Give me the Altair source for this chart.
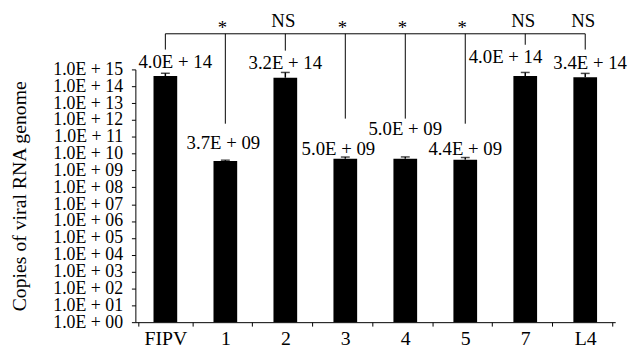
import altair as alt
import pandas as pd

categories = ["FIPV", "1", "2", "3", "4", "5", "7", "L4"]
values = [4.0e14, 3.7e9, 3.2e14, 5.0e9, 5.0e9, 4.4e9, 4.0e14, 3.4e14]
value_labels = ["4.0E + 14", "3.7E + 09", "3.2E + 14", "5.0E + 09",
                "5.0E + 09", "4.4E + 09", "4.0E + 14", "3.4E + 14"]
error_tops = [5.9e14, 4.1e9, 6.6e14, 6.3e9, 6.4e9, 5.9e9, 6.6e14, 5.8e14]

sig_categories = ["1", "2", "3", "4", "5", "7", "L4"]
sig_labels = ["*", "NS", "*", "*", "*", "NS", "NS"]
bracket_level = 1.3e17
bracket_ends = [1.5e16, 6e11, 1.3e16, 1.2e12, 1.2e12, 6e11, 2.9e16, 1.5e16]
sig_level = 3.3e17

tick_values = [10 ** i for i in range(16)]
tick_labels = ["1.0E + 00", "1.0E + 01", "1.0E + 02", "1.0E + 03", "1.0E + 04",
               "1.0E + 05", "1.0E + 06", "1.0E + 07", "1.0E + 08", "1.0E + 09",
               "1.0E + 10", "1.0E + 11", "1.0E + 12", "1.0E + 13", "1.0E + 14",
               "1.0E + 15"]

# label nudges (layout only, pixels)
label_dx = [10, -2, 0, -7, 0, 0, -20, 5]
label_dy = [-14, -18, -15, -10, -30, -11, -19, -14]

FONT = "Liberation Serif"
TITLE = "Copies of viral RNA genome"

df = pd.DataFrame({"cat": categories, "value": values, "label": value_labels,
                   "err": error_tops, "base": [1] * len(categories),
                   "bend": bracket_ends, "blevel": [bracket_level] * len(categories)})
sig_df = pd.DataFrame({"cat": sig_categories, "sig": sig_labels,
                       "slevel": [sig_level] * len(sig_categories)})
hdf = pd.DataFrame({"cat": [categories[0]], "cat2": [categories[-1]], "blevel": [bracket_level]})

y_scale = alt.Scale(type="log", domain=[1, 1e15], nice=False)
x_scale = alt.Scale(domain=categories)

label_expr = ("[" + ",".join("'%s'" % s for s in tick_labels)
              + "][round(log(datum.value)/LN10)]")

x_axis = alt.Axis(labelAngle=0, tickBand="extent", labelFont=FONT, labelFontSize=20,
                  labelColor="black", tickColor="black", domainColor="black",
                  tickSize=4, labelPadding=3, grid=False)
y_axis = alt.Axis(values=tick_values, labelExpr=label_expr, labelOverlap=False,
                  grid=False, labelFont=FONT, labelFontSize=18, labelColor="black",
                  titleFont=FONT, titleFontSize=20, titleFontWeight="normal",
                  titleColor="black", tickColor="black", domainColor="black",
                  tickSize=4, labelPadding=9, titleX=-111, titleY=128,
                  titleBaseline="alphabetic")


def X(field):
    return alt.X(field + ":N", scale=x_scale, axis=x_axis, title=None)


def Y(field):
    return alt.Y(field + ":Q", scale=y_scale, axis=y_axis, title=TITLE)


base = alt.Chart(df)

bars = base.mark_bar(color="#000000", size=24).encode(
    x=X("cat"), y=Y("value"), y2="base:Q",
)

err_rule = base.mark_rule(color="black", strokeWidth=1.5).encode(
    x=X("cat"), y=Y("value"), y2="err:Q",
)
err_cap = base.mark_tick(color="black", size=9, thickness=1.5).encode(
    x=X("cat"), y=Y("err"),
)

layers = [bars, err_rule, err_cap]

for i, c in enumerate(categories):
    layers.append(
        base.transform_filter(alt.datum.cat == c).mark_text(
            font=FONT, fontSize=19, color="black", baseline="middle",
            dx=label_dx[i], dy=label_dy[i]
        ).encode(x=X("cat"), y=Y("value"), text="label:N")
    )

vrules = base.mark_rule(color="black", strokeWidth=1).encode(
    x=X("cat"), y=Y("blevel"), y2="bend:Q",
)
hrule = alt.Chart(hdf).mark_rule(color="black", strokeWidth=1).encode(
    x=X("cat"), x2="cat2:N", y=Y("blevel"),
)
layers += [vrules, hrule]

sig_ns = alt.Chart(sig_df).transform_filter(alt.datum.sig == "NS").mark_text(
    font=FONT, fontSize=19, color="black", baseline="alphabetic", dx=-2
).encode(x=X("cat"), y=Y("slevel"), text="sig:N")
sig_star = alt.Chart(sig_df).transform_filter(alt.datum.sig == "*").mark_text(
    font=FONT, fontSize=19, color="black", baseline="alphabetic", dx=-3, dy=7
).encode(x=X("cat"), y=Y("slevel"), text="sig:N")
layers += [sig_ns, sig_star]

chart = alt.layer(*layers).properties(
    width=486, height=256, autosize="none",
    padding={"left": 129, "top": 60, "right": 17, "bottom": 26},
    background="white",
).configure_view(stroke=None)

chart.save("out.html", embed_options={"renderer": "svg", "actions": False})
